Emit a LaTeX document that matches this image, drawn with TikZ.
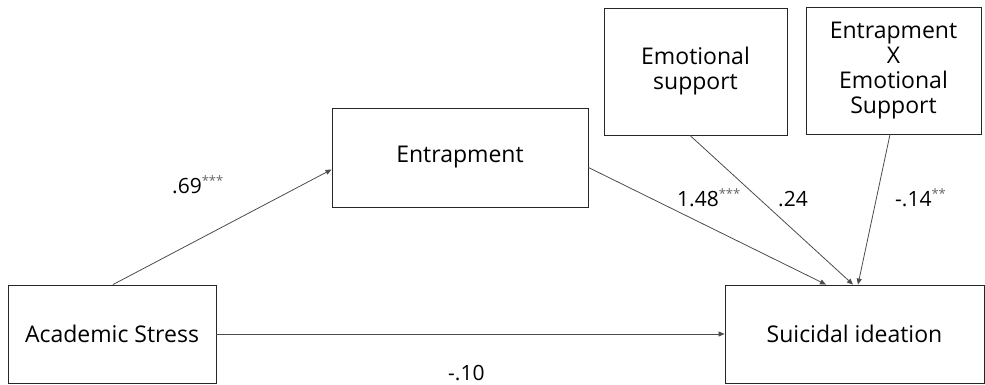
\documentclass[tikz,border=0pt]{standalone}
\usepackage{fontspec}
\setmainfont{Open Sans}
\usetikzlibrary{arrows.meta}
\newcommand{\stars}[1]{\textsuperscript{\fontsize{13}{13}\selectfont\color{black!60}#1}}
\begin{document}
\begin{tikzpicture}[x=1pt,y=1pt,
  box/.style={draw=black!85,line width=0.9pt,inner sep=0pt,align=center,font=\fontsize{23}{25}\selectfont},
  conn/.style={draw=black!70,line width=0.8pt,-{Triangle[length=6pt,width=5pt]}},
  lbl/.style={font=\fontsize{21}{24}\selectfont,inner sep=0pt,anchor=base west}]
\useasboundingbox (0,0) rectangle (985,384);
\node[box,minimum width=208pt,minimum height=98pt] (as) at (112,50) {Academic Stress};
\node[box,minimum width=259pt,minimum height=98pt] (si) at (854.5,50) {Suicidal ideation};
\node[box,minimum width=256pt,minimum height=99pt] (en) at (460,226.5) {Entrapment};
\node[box,minimum width=183pt,minimum height=127pt] (es) at (695.5,312.5) {Emotional\\support};
\node[box,minimum width=175pt,minimum height=127pt] (ex) at (893.5,313.5) {Entrapment\\X\\Emotional\\Support};
\coordinate (asn) at ([xshift=1pt]as.north);
\coordinate (enw) at ([yshift=-12pt]en.west);
\coordinate (ene) at ([yshift=-10pt]en.east);
\coordinate (ess) at ([xshift=-5.5pt]es.south);
\coordinate (exs) at ([xshift=-3.5pt]ex.south);
\coordinate (si1) at ([xshift=-28.5pt]si.north);
\coordinate (si2) at ([xshift=-1.5pt]si.north);
\coordinate (si3) at ([xshift=3.5pt]si.north);
\draw[conn] (asn) -- (enw);
\draw[conn] (ene) -- (si1);
\draw[conn] (ess) -- (si2);
\draw[conn] (exs) -- (si3);
\draw[conn] (as.east) -- (si.west);
\node[lbl] (l1) at (172,191) {.69\stars{***}};
\node[lbl] (l2) at (677,178) {1.48\stars{***}};
\node[lbl] (l3) at (778,178) {.24};
\node[lbl] (l4) at (895,178) {-.14\stars{**}};
\node[lbl] (l5) at (448,4) {-.10};
\end{tikzpicture}
\end{document}
